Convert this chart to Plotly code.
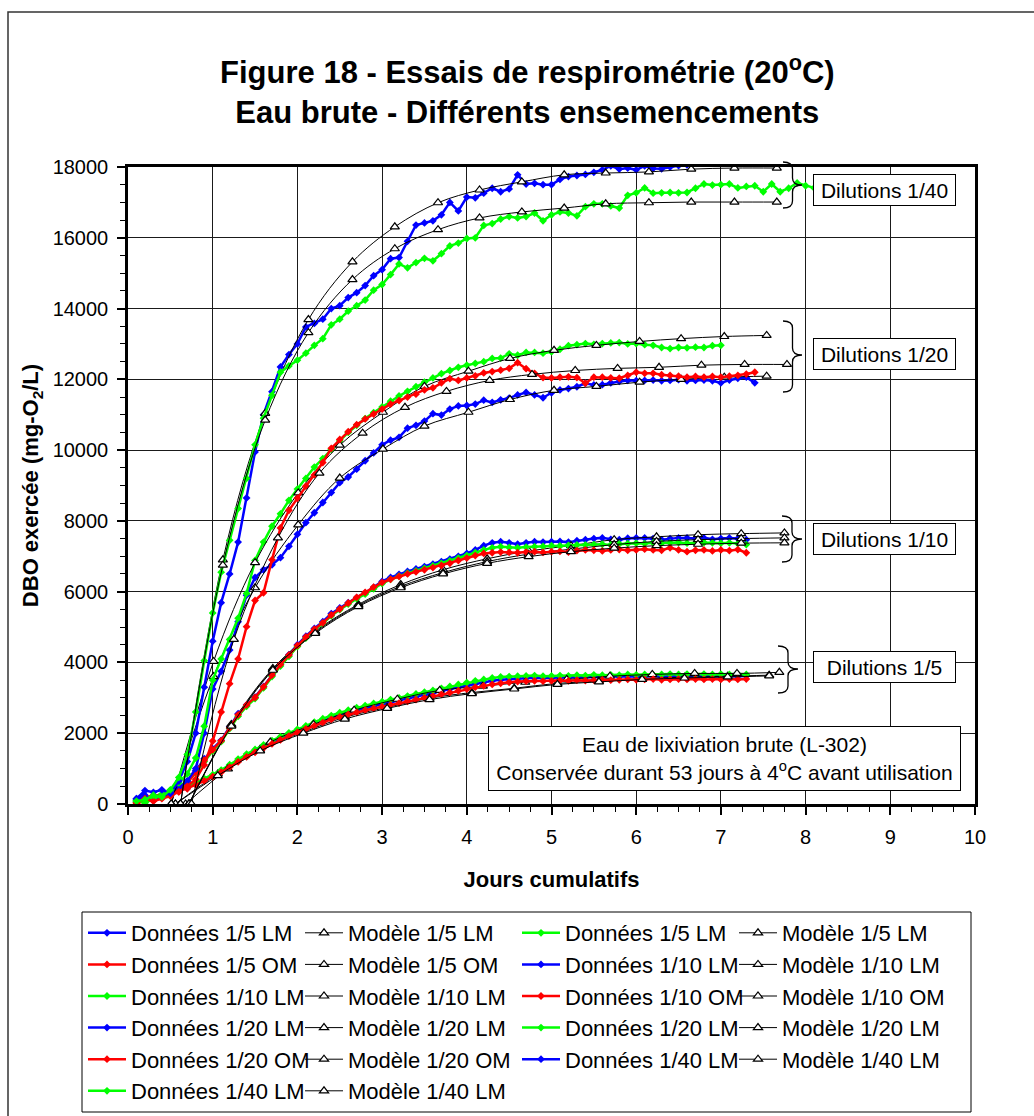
import plotly.graph_objects as go

# ---------------- DATA ----------------
DAYS = [0.1, 0.2, 0.3, 0.4, 0.5, 0.6, 0.7, 0.8, 0.9, 1.0,
        1.1, 1.2, 1.3, 1.4, 1.5, 1.6, 1.7, 1.8, 1.9, 2.0,
        2.1, 2.2, 2.3, 2.4, 2.5, 2.6, 2.7, 2.8, 2.9, 3.0,
        3.1, 3.2, 3.3, 3.4, 3.5, 3.6, 3.7, 3.8, 3.9, 4.0,
        4.1, 4.2, 4.3, 4.4, 4.5, 4.6, 4.7, 4.8, 4.9, 5.0,
        5.1, 5.2, 5.3, 5.4, 5.5, 5.6, 5.7, 5.8, 5.9, 6.0,
        6.1, 6.2, 6.3, 6.4, 6.5, 6.6, 6.7, 6.8, 6.9, 7.0,
        7.1, 7.2, 7.3, 7.4, 7.5, 7.6, 7.7, 7.8, 7.9, 8.0,
        8.1]

# Dilution 1/5
D15_LM_BLUE = [120, 60, 180, 230, 290, 360, 450, 560, 680, 800,
               930, 1080, 1230, 1370, 1500, 1620, 1740, 1850, 1960, 2060,
               2160, 2260, 2350, 2440, 2520, 2590, 2650, 2710, 2770, 2820,
               2880, 2930, 2980, 3030, 3090, 3140, 3190, 3250, 3300, 3350,
               3400, 3440, 3480, 3510, 3530, 3550, 3560, 3570, 3560, 3570,
               3580, 3570, 3590, 3580, 3590, 3600, 3590, 3600, 3610, 3600,
               3610, 3620, 3600, 3610, 3620, 3610, 3620, 3610, 3620, 3610,
               3620, 3610, 3620]
D15_LM_GREEN = [40, 150, 100, 260, 330, 420, 500, 600, 720, 830,
                960, 1110, 1270, 1410, 1540, 1670, 1790, 1900, 2010, 2110,
                2210, 2310, 2410, 2500, 2580, 2650, 2720, 2780, 2840, 2890,
                2950, 3000, 3050, 3110, 3160, 3210, 3270, 3320, 3380, 3430,
                3480, 3520, 3560, 3590, 3600, 3610, 3620, 3630, 3610, 3620,
                3630, 3620, 3640, 3630, 3650, 3640, 3650, 3640, 3660, 3650,
                3660, 3650, 3660, 3670, 3660, 3670, 3660, 3670, 3660, 3670,
                3660, 3670, 3660]
D15_OM_RED = [0, 100, 220, 180, 270, 340, 430, 540, 650, 770,
              900, 1040, 1190, 1330, 1460, 1580, 1700, 1810, 1920, 2020,
              2120, 2210, 2300, 2390, 2460, 2530, 2590, 2650, 2700, 2750,
              2800, 2850, 2900, 2950, 3000, 3050, 3100, 3150, 3200, 3250,
              3300, 3340, 3380, 3410, 3440, 3460, 3470, 3480, 3470, 3480,
              3490, 3480, 3500, 3490, 3500, 3510, 3500, 3510, 3520, 3510,
              3520, 3530, 3510, 3520, 3530, 3520, 3530, 3520, 3530, 3520,
              3530, 3520, 3530]

# Dilution 1/10
D110_LM_BLUE = [150, 250, 120, 200, 330, 450, 650, 950, 1280, 1560,
                1800, 2180, 2550, 2800, 3020, 3320, 3650, 3950, 4220, 4500,
                4740, 4960, 5150, 5380, 5540, 5690, 5830, 5960, 6120, 6290,
                6400, 6490, 6570, 6640, 6710, 6780, 6850, 6920, 7000, 7080,
                7180, 7300, 7380, 7410, 7380, 7340, 7380, 7410, 7400, 7410,
                7420, 7400, 7440, 7470, 7500, 7520, 7480, 7470, 7510, 7520,
                7520, 7500, 7470, 7500, 7520, 7520, 7500, 7520, 7480, 7500,
                7520, 7500, 7470]
D110_LM_GREEN = [100, 50, 200, 280, 380, 500, 620, 880, 1200, 1500,
                 1760, 2130, 2480, 2760, 2980, 3280, 3600, 3900, 4170, 4450,
                 4690, 4910, 5100, 5320, 5490, 5650, 5800, 5930, 6080, 6230,
                 6350, 6440, 6520, 6590, 6660, 6730, 6800, 6870, 6950, 7020,
                 7100, 7180, 7240, 7270, 7250, 7240, 7260, 7270, 7280, 7300,
                 7290, 7310, 7320, 7320, 7330, 7340, 7320, 7350, 7360, 7370,
                 7360, 7380, 7370, 7380, 7390, 7370, 7380, 7390, 7380, 7370,
                 7380, 7360, 7330]
D110_OM_RED = [50, 180, 250, 230, 350, 470, 600, 900, 1240, 1530,
               1790, 2150, 2520, 2800, 3010, 3310, 3640, 3940, 4210, 4480,
               4720, 4940, 5120, 5340, 5510, 5680, 5840, 5980, 6130, 6260,
               6350, 6430, 6500, 6560, 6620, 6680, 6740, 6800, 6880, 6950,
               7020, 7080, 7100, 7120, 7110, 7100, 7120, 7130, 7110, 7130,
               7140, 7120, 7160, 7180, 7170, 7150, 7180, 7190, 7170, 7180,
               7200, 7180, 7170, 7240, 7180, 7130, 7170, 7180, 7150, 7180,
               7160, 7190, 7100]

# Dilution 1/20
D120_LM_BLUE = [80, 200, 100, 200, 300, 450, 650, 1000, 2000, 3250,
                3750, 4350, 5150, 5900, 6400, 6620, 6760, 6960, 7280, 7620,
                7950, 8230, 8520, 8800, 9080, 9240, 9460, 9700, 9920, 10150,
                10280, 10360, 10620, 10700, 10820, 11030, 10990, 11160, 11250, 11260,
                11300, 11410, 11350, 11420, 11470, 11560, 11630, 11560, 11480, 11620,
                11700, 11740, 11790, 11890, 11840, 11850, 11900, 11940, 11970, 11960,
                11970, 11980, 11960, 11970, 11990, 11960, 11970, 11980, 11960, 11900,
                11980, 12030, 12060, 11900]
D120_LM_GREEN = [100, 30, 150, 250, 380, 600, 850, 1300, 2200, 3500,
                 4100, 4650, 5250, 5950, 6880, 7400, 7850, 8200, 8580, 8900,
                 9200, 9520, 9760, 10020, 10260, 10500, 10700, 10890, 11060, 11220,
                 11380, 11530, 11660, 11790, 11920, 12040, 12160, 12250, 12340, 12400,
                 12450, 12500, 12590, 12600, 12720, 12680, 12760, 12760, 12740, 12780,
                 12850, 12950, 12980, 13010, 12990, 13010, 13030, 13040, 13000, 13010,
                 12980, 12960, 12900, 12870, 12900, 12890, 12910, 12900, 12950, 12960]
D120_OM_RED = [30, 150, 80, 150, 220, 350, 500, 700, 1100, 1780,
               2600, 3400, 4100, 5010, 5750, 5970, 6900, 7800, 8300, 8640,
               8980, 9300, 9650, 10050, 10300, 10520, 10720, 10880, 11020, 11160,
               11300, 11400, 11500, 11580, 11700, 11760, 11900, 12020, 11970, 12040,
               12100, 12180, 12220, 12260, 12310, 12470, 12300, 12170, 12050, 12040,
               12060, 12070, 12050, 11890, 12060, 12060, 12040, 12030, 12110, 12200,
               12170, 12170, 12130, 12110, 12090, 12060, 12080, 12060, 12080, 12060,
               12090, 12110, 12150, 12200]

# Dilution 1/40
D140_LM_BLUE = [150, 380, 330, 400, 300, 650, 1200, 2000, 3300, 4600,
                5690, 6500, 7400, 8650, 9950, 11000, 11650, 12350, 12700, 13000,
                13480, 13580, 13700, 14000, 14080, 14310, 14450, 14650, 14930, 15100,
                15410, 15440, 15900, 16360, 16420, 16480, 16650, 17000, 16760, 17150,
                17130, 17260, 17400, 17300, 17380, 17780, 17520, 17540, 17500, 17500,
                17650, 17730, 17760, 17790, 17850, 17920, 18030, 17940, 17970, 17920,
                18030, 17960, 17950, 18000, 18040, 18060]
D140_LM_GREEN = [80, 120, 250, 200, 400, 750, 1400, 2600, 4050, 5400,
                 6550, 7450, 8350, 9200, 10150, 10900, 11550, 12200, 12380, 12540,
                 12740, 12960, 13150, 13540, 13700, 13930, 14080, 14240, 14520, 14680,
                 14960, 15260, 15150, 15300, 15420, 15350, 15550, 15770, 15850, 15980,
                 16000, 16350, 16400, 16530, 16600, 16560, 16600, 16700, 16480, 16650,
                 16730, 16700, 16620, 16880, 16960, 16960, 16900, 16840, 17200, 17270,
                 17410, 17260, 17270, 17280, 17270, 17280, 17400, 17520, 17490, 17500,
                 17520, 17410, 17450, 17470, 17300, 17520, 17300, 17400, 17550, 17470,
                 17410]

# Model curves (triangle points)
M15_X_A = [0.56, 1.06, 1.56, 2.07, 2.56, 3.06, 3.56, 4.06, 4.56, 5.07, 5.56, 6.07, 6.57, 7.08, 7.57]
M15_X_B = [0.68, 1.18, 1.68, 2.19, 2.67, 3.18, 3.68, 4.19, 4.69, 5.18, 5.69, 6.19, 6.69, 7.19, 7.69]
M15_LM_BLUE = [0, 850, 1550, 2030, 2450, 2730, 2990, 3150, 3270, 3410, 3470, 3550, 3580, 3610, 3640]
M15_LM_GREEN = [0, 990, 1750, 2250, 2650, 2960, 3210, 3330, 3440, 3520, 3610, 3660, 3690, 3690, 3720]
M15_OM_RED = [0, 800, 1500, 2000, 2400, 2700, 2950, 3120, 3250, 3380, 3450, 3520, 3560, 3590, 3620]

M110_X = [0.72, 1.22, 1.71, 2.21, 2.72, 3.22, 3.72, 4.24, 4.73, 5.23, 5.74, 6.24, 6.73, 7.24, 7.75]
M110_LM_BLUE = [0, 2250, 3830, 4880, 5640, 6200, 6620, 6930, 7150, 7300, 7470, 7550, 7610, 7640, 7660]
M110_LM_GREEN = [0, 2220, 3800, 4850, 5610, 6150, 6540, 6850, 7060, 7200, 7330, 7420, 7470, 7500, 7520]
M110_OM_RED = [0, 2200, 3780, 4820, 5580, 6110, 6500, 6800, 6990, 7130, 7230, 7300, 7340, 7370, 7380]

M120_X_A = [0.51, 1.01, 1.50, 2.01, 2.50, 3.01, 3.50, 4.02, 4.51, 5.03, 5.53, 6.04, 6.53, 7.04, 7.54]
M120_X_B = [0.75, 1.25, 1.77, 2.26, 2.77, 3.27, 3.76, 4.27, 4.77, 5.28, 5.78, 6.27, 6.77, 7.28, 7.78]
M120_LM_BLUE = [0, 3600, 6110, 7890, 9210, 10030, 10680, 11070, 11430, 11690, 11800, 11920, 12000, 12060, 12090]
M120_LM_GREEN = [0, 4030, 6820, 8790, 10140, 11070, 11800, 12230, 12590, 12820, 12960, 13070, 13150, 13210, 13240]
M120_OM_RED = [0, 4650, 7520, 9350, 10480, 11210, 11660, 11970, 12140, 12250, 12310, 12340, 12400, 12420, 12420]

M140_X = [0.62, 1.12, 1.62, 2.13, 2.65, 3.15, 3.66, 4.15, 4.65, 5.15, 5.64, 6.15, 6.65, 7.16, 7.66]
M140_LM_BLUE = [0, 6900, 11040, 13690, 15320, 16310, 16990, 17350, 17580, 17780, 17830, 17860, 17940, 17970, 17970]
M140_LM_GREEN = [0, 6750, 10850, 13320, 14820, 15690, 16230, 16560, 16730, 16840, 16960, 16990, 17010, 17010, 17010]

X_TICKS = [0, 1, 2, 3, 4, 5, 6, 7, 8, 9, 10]
Y_TICKS = [0, 2000, 4000, 6000, 8000, 10000, 12000, 14000, 16000, 18000]

BLUE, GREEN, RED = "#0000FF", "#00FF00", "#FF0000"

SERIES = [
    ("1/5 LM", BLUE, D15_LM_BLUE, M15_X_A, M15_LM_BLUE),
    ("1/5 LM", GREEN, D15_LM_GREEN, M15_X_B, M15_LM_GREEN),
    ("1/5 OM", RED, D15_OM_RED, M15_X_A, M15_OM_RED),
    ("1/10 LM", BLUE, D110_LM_BLUE, M110_X, M110_LM_BLUE),
    ("1/10 LM", GREEN, D110_LM_GREEN, M110_X, M110_LM_GREEN),
    ("1/10 OM", RED, D110_OM_RED, M110_X, M110_OM_RED),
    ("1/20 LM", BLUE, D120_LM_BLUE, M120_X_A, M120_LM_BLUE),
    ("1/20 LM", GREEN, D120_LM_GREEN, M120_X_A, M120_LM_GREEN),
    ("1/20 OM", RED, D120_OM_RED, M120_X_B, M120_OM_RED),
    ("1/40 LM", BLUE, D140_LM_BLUE, M140_X, M140_LM_BLUE),
    ("1/40 LM", GREEN, D140_LM_GREEN, M140_X, M140_LM_GREEN),
]

# ---------------- LAYOUT HELPERS ----------------
W, H = 1034, 1116
L, R, T, B = 128, 975, 167, 804
FONT = "Arial, Liberation Sans, Helvetica, sans-serif"


def px_x(px):
    return (px - L) / (R - L)


def px_y(py):
    return (B - py) / (B - T)


def brace_path(x0, x1, ytop, ybot, ymid, r=7):
    xm = (x0 + x1) / 2.0
    pts = [("M", [(x0, ytop)]),
           ("Q", [(xm, ytop), (xm, ytop + r)]),
           ("L", [(xm, ymid - r)]),
           ("Q", [(xm, ymid), (x1, ymid)]),
           ("Q", [(xm, ymid), (xm, ymid + r)]),
           ("L", [(xm, ybot - r)]),
           ("Q", [(xm, ybot), (x0, ybot)])]
    s = ""
    for cmd, coords in pts:
        s += cmd + " ".join("%.5f,%.5f" % (px_x(a), px_y(b)) for a, b in coords) + " "
    return s.strip()


fig = go.Figure()

for label, color, ys, mx, my in SERIES:
    fig.add_trace(go.Scatter(
        x=DAYS[:len(ys)], y=ys, name="Données " + label,
        mode="lines+markers",
        line=dict(color=color, width=2.5),
        marker=dict(symbol="diamond", size=6, color=color),
    ))
    fig.add_trace(go.Scatter(
        x=mx, y=my, name="Modèle " + label,
        mode="lines+markers",
        line=dict(color="black", width=1, shape="spline", smoothing=1),
        marker=dict(symbol="triangle-up", size=8, color="white",
                    line=dict(color="black", width=1.2)),
    ))

axis_common = dict(
    ticks="outside", ticklen=8, tickwidth=1.5, tickcolor="black",
    showline=True, linewidth=2.5, linecolor="black", mirror=True,
    showgrid=True, gridcolor="#1a1a1a", gridwidth=1, zeroline=False,
    tickfont=dict(family=FONT, size=20, color="black"),
    ticklabelstandoff=5,
)

fig.update_xaxes(
    range=[0, 10], tickvals=X_TICKS,
    minor=dict(dtick=0.25, ticks="outside", ticklen=5, tickwidth=1,
               tickcolor="black", showgrid=False),
    title=dict(text="<b>Jours cumulatifs</b>",
               font=dict(family=FONT, size=22, color="black"), standoff=25),
    **axis_common,
)
fig.update_yaxes(
    range=[0, 18000], tickvals=Y_TICKS, tickformat="d",
    minor=dict(dtick=500, ticks="outside", ticklen=5, tickwidth=1,
               tickcolor="black", showgrid=False),
    title=dict(text="<b>DBO exercée (mg-O<sub>2</sub>/L)</b>",
               font=dict(family=FONT, size=22, color="black"), standoff=8),
    **axis_common,
)

shapes = [
    # outer frame of the whole figure
    dict(type="rect", xref="paper", yref="paper",
         x0=px_x(8), x1=px_x(1045), y0=px_y(1125), y1=px_y(12),
         line=dict(color="#333333", width=1.5), layer="below"),
    # legend frame
    dict(type="rect", xref="paper", yref="paper",
         x0=px_x(82), x1=px_x(971), y0=px_y(1112), y1=px_y(912),
         line=dict(color="black", width=1), layer="below"),
]
for x0, x1, yt, yb, ym in [(783, 802, 162, 208, 185),
                           (783, 802, 321, 392, 355),
                           (782, 802, 516, 562, 539),
                           (778, 798, 646, 693, 669)]:
    shapes.append(dict(type="path", xref="paper", yref="paper",
                       path=brace_path(x0, x1, yt, yb, ym),
                       line=dict(color="black", width=1.3)))

annotations = []
for text, cy in [("Dilutions 1/40", 190), ("Dilutions 1/20", 354),
                 ("Dilutions 1/10", 539), ("Dilutions 1/5", 667)]:
    annotations.append(dict(
        text=text, xref="paper", yref="paper", x=px_x(884), y=px_y(cy),
        xanchor="center", yanchor="middle", showarrow=False,
        width=137, height=26, borderpad=2, bordercolor="black", borderwidth=1,
        bgcolor="white", font=dict(family=FONT, size=21, color="black")))
annotations.append(dict(
    text="Eau de lixiviation brute (L-302)<br>Conservée durant 53 jours à 4<sup>o</sup>C avant utilisation",
    xref="paper", yref="paper", x=px_x(724), y=px_y(758),
    xanchor="center", yanchor="middle", showarrow=False,
    width=467, height=59, borderpad=2, bordercolor="black", borderwidth=1,
    bgcolor="white", font=dict(family=FONT, size=21, color="black")))

fig.update_layout(
    width=W, height=H,
    margin=dict(l=L, r=W - R, t=T, b=H - B, autoexpand=False),
    paper_bgcolor="white", plot_bgcolor="white",
    font=dict(family=FONT, color="black"),
    title=dict(text="<b>Figure 18 - Essais de respirométrie (20<sup>o</sup>C)<br>Eau brute - Différents ensemencements</b>",
               x=0.51, xanchor="center", y=1 - 83 / H, yanchor="top", yref="container",
               font=dict(family=FONT, size=31, color="black")),
    showlegend=True,
    legend=dict(orientation="h", x=px_x(83), y=px_y(912), xanchor="left", yanchor="top",
                xref="paper", yref="paper",
                borderwidth=0, bgcolor="rgba(0,0,0,0)",
                font=dict(family=FONT, size=22, color="black"),
                itemwidth=38, entrywidth=164, entrywidthmode="pixels",
                traceorder="normal"),
    shapes=shapes, annotations=annotations,
    hovermode=False,
)

fig.write_html("out.html")
